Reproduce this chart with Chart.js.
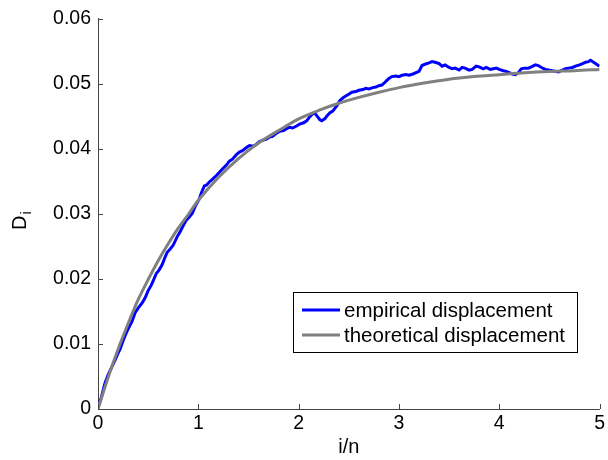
<!DOCTYPE html>
<html>
<head>
<meta charset="utf-8">
<script src="https://cdn.jsdelivr.net/npm/chart.js@4/dist/chart.umd.min.js"></script>
<style>
html,body{margin:0;padding:0;background:#fff;}
#wrap{width:608px;height:460px;position:relative;}
</style>
</head>
<body>
<div id="wrap"><canvas id="c" width="608" height="460"></canvas></div>
<script>
// ---- data ----
const empiricalX = [0.00,0.03,0.07,0.10,0.13,0.17,0.20,0.22,0.25,0.29,0.31,0.34,0.37,0.40,0.44,0.47,0.50,0.53,0.55,0.58,0.61,0.64,0.67,0.69,0.72,0.75,0.79,0.82,0.85,0.88,0.91,0.94,0.97,1.01,1.03,1.06,1.08,1.11,1.14,1.18,1.21,1.24,1.28,1.31,1.34,1.38,1.41,1.44,1.48,1.51,1.55,1.58,1.61,1.64,1.68,1.71,1.74,1.78,1.81,1.85,1.88,1.91,1.94,1.98,2.01,2.05,2.08,2.11,2.14,2.16,2.19,2.21,2.23,2.26,2.28,2.31,2.34,2.38,2.41,2.44,2.47,2.50,2.53,2.57,2.60,2.64,2.67,2.70,2.74,2.77,2.80,2.83,2.86,2.90,2.93,2.97,3.00,3.03,3.07,3.10,3.14,3.17,3.20,3.23,3.26,3.30,3.33,3.36,3.40,3.43,3.46,3.50,3.53,3.56,3.60,3.63,3.66,3.70,3.73,3.77,3.80,3.84,3.87,3.91,3.94,3.97,4.00,4.04,4.07,4.10,4.13,4.16,4.19,4.22,4.25,4.29,4.32,4.36,4.39,4.42,4.46,4.49,4.53,4.56,4.59,4.63,4.66,4.69,4.73,4.76,4.80,4.83,4.86,4.89,4.91,4.94,4.97,5.00];
const empiricalY = [0.0003,0.0016,0.0040,0.0052,0.0062,0.0075,0.0086,0.0092,0.0105,0.0120,0.0126,0.0135,0.0148,0.0155,0.0163,0.0171,0.0182,0.0190,0.0197,0.0208,0.0214,0.0222,0.0234,0.0241,0.0246,0.0252,0.0265,0.0273,0.0282,0.0290,0.0295,0.0301,0.0312,0.0323,0.0332,0.0343,0.0344,0.0349,0.0353,0.0359,0.0364,0.0369,0.0375,0.0381,0.0384,0.0391,0.0395,0.0397,0.0402,0.0405,0.0404,0.0407,0.0411,0.0413,0.0415,0.0418,0.0419,0.0424,0.0427,0.0428,0.0431,0.0433,0.0432,0.0435,0.0438,0.0440,0.0443,0.0449,0.0454,0.0455,0.0449,0.0445,0.0443,0.0446,0.0450,0.0455,0.0458,0.0466,0.0474,0.0478,0.0481,0.0484,0.0487,0.0488,0.0490,0.0491,0.0493,0.0492,0.0494,0.0495,0.0497,0.0498,0.0502,0.0508,0.0511,0.0512,0.0511,0.0513,0.0514,0.0513,0.0515,0.0517,0.0519,0.0528,0.0530,0.0532,0.0534,0.0533,0.0531,0.0527,0.0529,0.0525,0.0523,0.0524,0.0521,0.0525,0.0524,0.0521,0.0522,0.0527,0.0526,0.0523,0.0525,0.0522,0.0523,0.0524,0.0522,0.0520,0.0519,0.0517,0.0515,0.0514,0.0517,0.0523,0.0524,0.0524,0.0526,0.0529,0.0528,0.0525,0.0522,0.0521,0.0520,0.0519,0.0518,0.0521,0.0523,0.0524,0.0525,0.0527,0.0529,0.0531,0.0533,0.0534,0.0536,0.0533,0.0530,0.0527];
const theoreticalX = [0,0.1,0.2,0.3,0.4,0.5,0.6,0.7,0.8,0.9,1.0,1.2,1.4,1.6,1.8,2.0,2.2,2.4,2.6,2.8,3.0,3.25,3.5,3.75,4.0,4.25,4.5,4.75,5.0];
const theoreticalY = [0,0.0048,0.0092,0.0131,0.0168,0.0199,0.0228,0.0254,0.0278,0.0299,0.0321,0.0356,0.0385,0.0409,0.0428,0.0446,0.0459,0.0470,0.0479,0.0487,0.0494,0.0501,0.0507,0.0511,0.0514,0.0517,0.0519,0.0520,0.0522];
const xTicks = [0,1,2,3,4,5];
const yTicks = [0,0.01,0.02,0.03,0.04,0.05,0.06];
const yTickLabels = ["0","0.01","0.02","0.03","0.04","0.05","0.06"];
const seriesLabels = ["empirical displacement","theoretical displacement"];
const xTitle = "i/n";

const FONT = "'Liberation Sans', Arial, sans-serif";
const toPts = (xs, ys) => xs.map((x,i)=>({x:x,y:ys[i]}));

const inwardTicks = {
  id:'inwardTicks',
  afterDraw(chart){
    const ctx = chart.ctx, xs = chart.scales.x, ys = chart.scales.y, a = chart.chartArea;
    ctx.save();
    ctx.strokeStyle = '#444'; ctx.lineWidth = 1;
    ctx.beginPath();
    xTicks.forEach(v=>{ const px = Math.round(xs.getPixelForValue(v))+0.5; ctx.moveTo(px,a.bottom); ctx.lineTo(px,a.bottom-5); });
    yTicks.forEach(v=>{ const py = Math.round(ys.getPixelForValue(v))+0.5; ctx.moveTo(a.left,py); ctx.lineTo(a.left+5,py); });
    ctx.stroke();
    // axis titles
    ctx.fillStyle = '#000';
    ctx.font = '20px ' + FONT;
    ctx.textAlign = 'center'; ctx.textBaseline = 'middle';
    ctx.fillText(xTitle, (a.left+a.right)/2, 447);
    ctx.translate(21, 222);
    ctx.rotate(-Math.PI/2);
    ctx.textAlign = 'left'; ctx.textBaseline = 'alphabetic';
    ctx.font = '20px ' + FONT;
    ctx.fillText('D', -8, 5);
    const w = ctx.measureText('D').width;
    ctx.font = '14px ' + FONT;
    ctx.fillText('i', -8 + w + 1, 10);
    ctx.restore();
    // legend
    ctx.save();
    const lx = 293.5, ly = 292.5, lw = 284, lh = 60;
    ctx.fillStyle = '#fff'; ctx.fillRect(lx, ly, lw, lh);
    ctx.strokeStyle = '#000'; ctx.lineWidth = 1; ctx.strokeRect(lx, ly, lw, lh);
    ctx.font = '20.5px ' + FONT; ctx.textBaseline = 'middle'; ctx.textAlign = 'left';
    const rows = [310, 335];
    chart.data.datasets.forEach((ds,i)=>{
      ctx.strokeStyle = ds.borderColor; ctx.lineWidth = 3;
      ctx.beginPath(); ctx.moveTo(302, rows[i]); ctx.lineTo(340, rows[i]); ctx.stroke();
      ctx.fillStyle = '#000'; ctx.fillText(ds.label, 344, rows[i]+1);
    });
    ctx.restore();
  }
};

new Chart(document.getElementById('c'), {
  type:'line',
  data:{ datasets:[
    {label:seriesLabels[0], data:toPts(empiricalX, empiricalY), borderColor:'#0000ff', borderWidth:3, pointRadius:0, tension:0, order:2},
    {label:seriesLabels[1], data:toPts(theoreticalX, theoreticalY), borderColor:'#808080', borderWidth:3, pointRadius:0, tension:0.3, order:1}
  ]},
  options:{
    responsive:false, animation:false, devicePixelRatio:1,
    layout:{padding:{top:15,right:7,left:0,bottom:0}},
    plugins:{legend:{display:false}, tooltip:{enabled:false}},
    scales:{
      x:{type:'linear', min:0, max:5,
        afterBuildTicks(s){ s.ticks = xTicks.map(v=>({value:v})); },
        afterFit(s){ s.height = 51; },
        grid:{display:false, drawTicks:false},
        border:{display:true, color:'#444', width:1},
        ticks:{color:'#000', font:{family:FONT, size:19.5}, padding:3, maxRotation:0, callback:(v)=>String(v)}
      },
      y:{type:'linear', min:0, max:0.06,
        afterBuildTicks(s){ s.ticks = yTicks.map(v=>({value:v})); },
        afterFit(s){ s.width = 98; },
        grid:{display:false, drawTicks:false},
        border:{display:true, color:'#444', width:1},
        ticks:{color:'#000', font:{family:FONT, size:19.5}, padding:7, callback:(v,i)=>yTickLabels[i]}
      }
    }
  },
  plugins:[inwardTicks]
});
</script>
</body>
</html>
